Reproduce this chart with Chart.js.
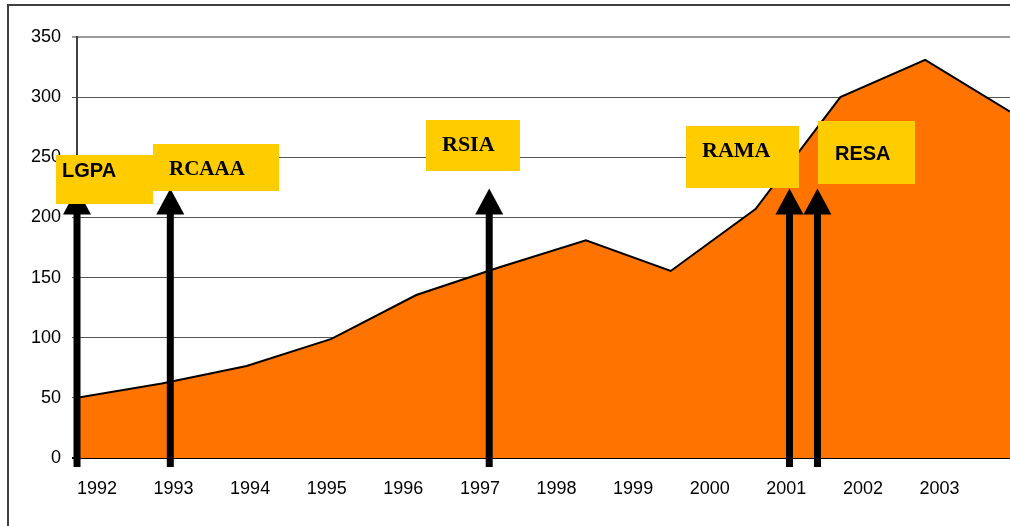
<!DOCTYPE html>
<html>
<head>
<meta charset="utf-8">
<script src="https://cdn.jsdelivr.net/npm/chart.js@4/dist/chart.umd.min.js"></script>
<style>
  body { margin: 0; background: #fff; }
  #wrap { width: 1010px; height: 526px; }
</style>
</head>
<body>
<div id="wrap"><canvas id="myChart" width="1010" height="526"></canvas></div>
<script>
// tick labels along the bottom
const years = ['1992', '1993', '1994', '1995', '1996', '1997', '1998', '1999', '2000', '2001', '2002', '2003'];
// area series, one value per step
const values = [50, 62, 76.5, 99, 135.5, 159, 181, 155.5, 207, 300, 331, 288];
// arrows: where they stand on the series' step axis, and how high they reach
const arrowLabels = ['LGPA', 'RCAAA', 'RSIA', 'RAMA', 'RESA'];
const arrowAt = [0, 1.1, 4.86, 8.4, 8.73];
const arrowTop = [224, 224, 224, 224, 224];
const arrowFoot = -7.5;

const SANS = 'Liberation Sans, Arial, sans-serif';
const SERIF = 'Liberation Serif, Times New Roman, serif';

// label box styling, relative to each arrow tip (px)
const boxStyle = {
  LGPA:  { dx: -21,  dy: -34, w: 97,  h: 49, tx: 6,  ty: 22, font: 'bold 20px ' + SANS },
  RCAAA: { dx: -17,  dy: -45, w: 126, h: 47, tx: 16, ty: 31, font: 'bold 21px ' + SERIF },
  RSIA:  { dx: -63,  dy: -69, w: 94,  h: 51, tx: 16, ty: 31, font: 'bold 22px ' + SERIF },
  RAMA:  { dx: -103, dy: -63, w: 113, h: 62, tx: 16, ty: 31, font: 'bold 22px ' + SERIF },
  RESA:  { dx: 1,    dy: -68, w: 97,  h: 63, tx: 17, ty: 39, font: 'bold 20px ' + SANS }
};

const frame = {
  id: 'frame',
  beforeDraw(chart) {
    const ctx = chart.ctx;
    ctx.save();
    ctx.fillStyle = '#fff';
    ctx.fillRect(0, 0, chart.width, chart.height);
    ctx.strokeStyle = '#404040';
    ctx.lineWidth = 2;
    ctx.strokeRect(8, 5, chart.width + 20, chart.height + 20);
    ctx.restore();
  }
};

const arrows = {
  id: 'arrows',
  afterDatasetsDraw(chart) {
    const ctx = chart.ctx;
    const xs = chart.scales.x, ys = chart.scales.y;
    ctx.save();
    // arrows first
    arrowLabels.forEach((name, i) => {
      const x = xs.getPixelForValue(arrowAt[i]);
      const tip = ys.getPixelForValue(arrowTop[i]);
      const foot = ys.getPixelForValue(arrowFoot);
      const headH = 26, headW = 28, shaft = 7;
      ctx.fillStyle = '#000';
      ctx.fillRect(x - shaft / 2, tip + headH - 1, shaft, foot - tip - headH + 1);
      ctx.beginPath();
      ctx.moveTo(x, tip);
      ctx.lineTo(x - headW / 2, tip + headH);
      ctx.lineTo(x + headW / 2, tip + headH);
      ctx.closePath();
      ctx.fill();
    });
    // then the yellow boxes over them
    arrowLabels.forEach((name, i) => {
      const b = boxStyle[name];
      const x = xs.getPixelForValue(arrowAt[i]);
      const tip = ys.getPixelForValue(arrowTop[i]);
      const left = Math.round(x + b.dx), top = Math.round(tip + b.dy);
      ctx.fillStyle = '#FFCC00';
      ctx.fillRect(left, top, b.w, b.h);
      ctx.fillStyle = '#000';
      ctx.font = b.font;
      ctx.textAlign = 'left';
      ctx.textBaseline = 'alphabetic';
      ctx.fillText(name, left + b.tx, top + b.ty);
    });
    ctx.restore();
  }
};

const ctx = document.getElementById('myChart').getContext('2d');

new Chart(ctx, {
  type: 'line',
  data: {
    datasets: [{
      data: values.map((v, i) => ({ x: i, y: v })),
      xAxisID: 'x',
      yAxisID: 'y',
      borderColor: '#000',
      borderWidth: 2,
      backgroundColor: '#FF7300',
      fill: 'origin',
      pointRadius: 0,
      tension: 0
    }]
  },
  options: {
    responsive: false,
    animation: false,
    layout: { padding: { top: 37, left: 0, right: 0, bottom: 0 } },
    plugins: { legend: { display: false }, tooltip: { enabled: false } },
    scales: {
      x: {
        type: 'linear',
        display: false,
        min: 0,
        max: 11
      },
      years: {
        type: 'linear',
        position: 'bottom',
        min: 1991.74,
        max: 2003.92,
        afterBuildTicks(scale) {
          scale.ticks = years.map(y => ({ value: Number(y) }));
        },
        afterFit(scale) { scale.height = 68; },
        grid: { display: false, drawTicks: false },
        border: { display: false },
        ticks: {
          padding: 20,
          color: '#000',
          font: { family: SANS, size: 18 },
          maxRotation: 0,
          autoSkip: false,
          callback: v => String(v)
        }
      },
      y: {
        type: 'linear',
        min: 0,
        max: 350,
        afterFit(scale) { scale.width = 77; },
        border: { display: true, color: '#404040', width: 2 },
        grid: {
          drawTicks: true,
          tickLength: 5,
          color: c => c.tick.value === 0 ? '#000' : (c.tick.value === 350 ? '#9a9a9a' : '#555'),
          lineWidth: c => (c.tick.value === 0 || c.tick.value === 350) ? 2 : 1
        },
        ticks: {
          stepSize: 50,
          padding: 11,
          color: '#000',
          font: { family: SANS, size: 18 }
        }
      }
    }
  },
  plugins: [frame, arrows]
});
</script>
</body>
</html>
